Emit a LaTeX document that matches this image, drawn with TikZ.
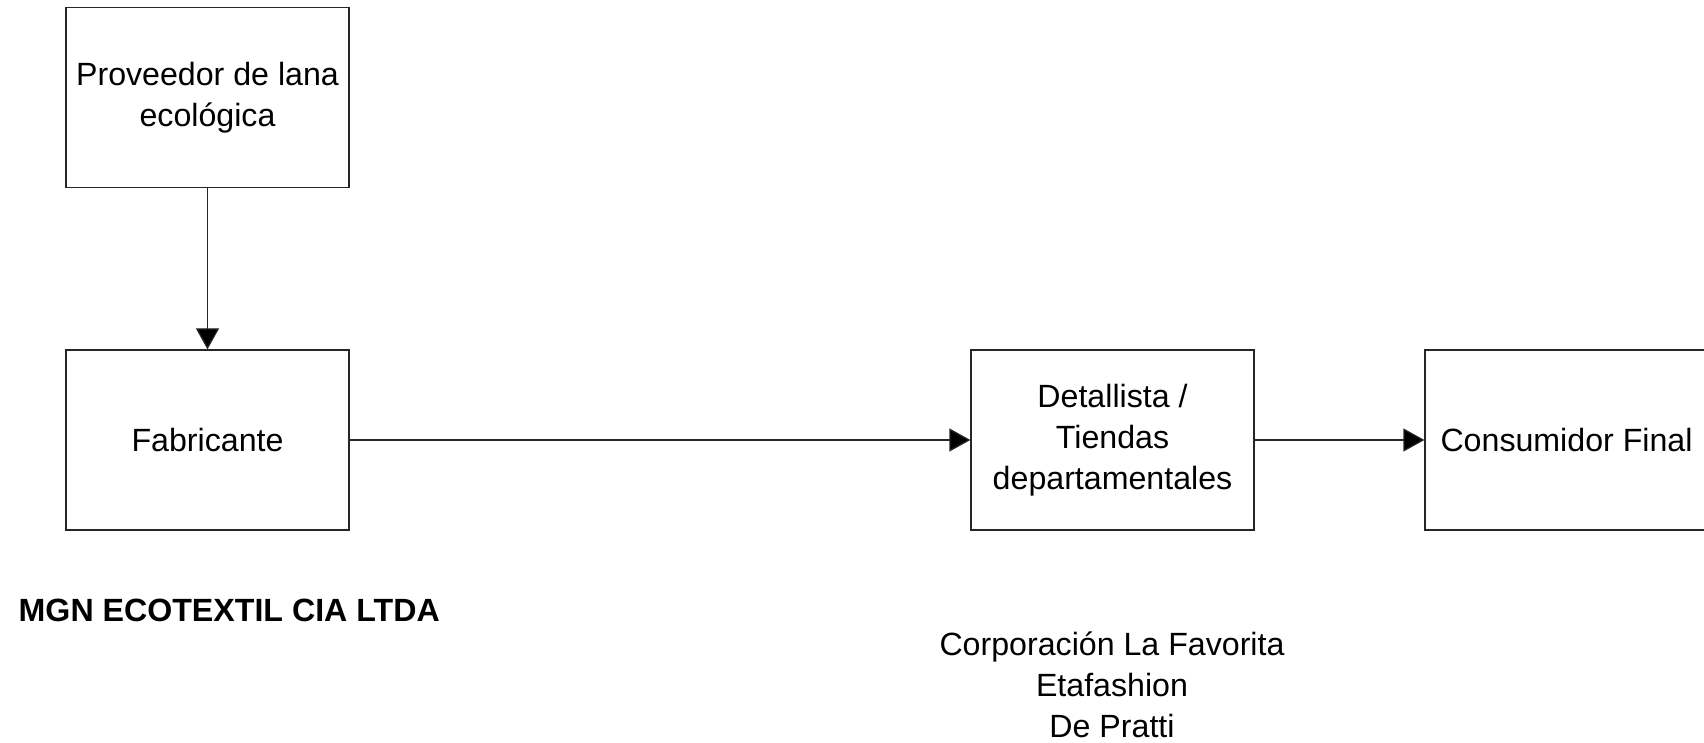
\documentclass[tikz,border=0pt]{standalone}
\usepackage{fontspec}
\setmainfont{Liberation Sans}
\usetikzlibrary{arrows.meta}

\begin{document}
\begin{tikzpicture}[x=1.0cm, y=1.0cm,
	box/.style={draw=black!85, line width=0.35pt, minimum width=2.83cm, minimum height=1.80cm,
		inner sep=0pt, align=center, font=\fontsize{9.15pt}{11.6pt}\selectfont},
	flow/.style={draw=black!85, line width=0.35pt, -{Triangle[length=0.21cm, width=0.23cm, fill=black]}},
	label/.style={inner sep=0pt, align=center, font=\fontsize{9.15pt}{11.6pt}\selectfont}]
			\useasboundingbox (0, 0) rectangle (17.04, 7.42);
			% Boxes
			\node[box] (proveedor) at (2.075, 6.445) {Proveedor de lana\\ecológica};
			\node[box] (fabricante) at (2.075, 3.02) {Fabricante};
			\node[box] (detallista) at (11.125, 3.02) {Detallista /\\Tiendas\\departamentales};
			\node[box] (consumidor) at (15.665, 3.02) {Consumidor Final};
			% Connectors
			\draw[flow] (proveedor) -- (fabricante);
			\draw[flow] (fabricante) -- (detallista);
			\draw[flow] (detallista) -- (consumidor);
			% Annotations
			\node[label, anchor=west, font=\fontsize{9.15pt}{11.6pt}\selectfont\bfseries] (empresa) at (0.18, 1.32)
				{MGN ECOTEXTIL CIA LTDA};
			\node[label] (tiendas) at (11.12, 0.57)
				{Corporación La Favorita\\Etafashion\\De Pratti};
		\end{tikzpicture}
\end{document}
